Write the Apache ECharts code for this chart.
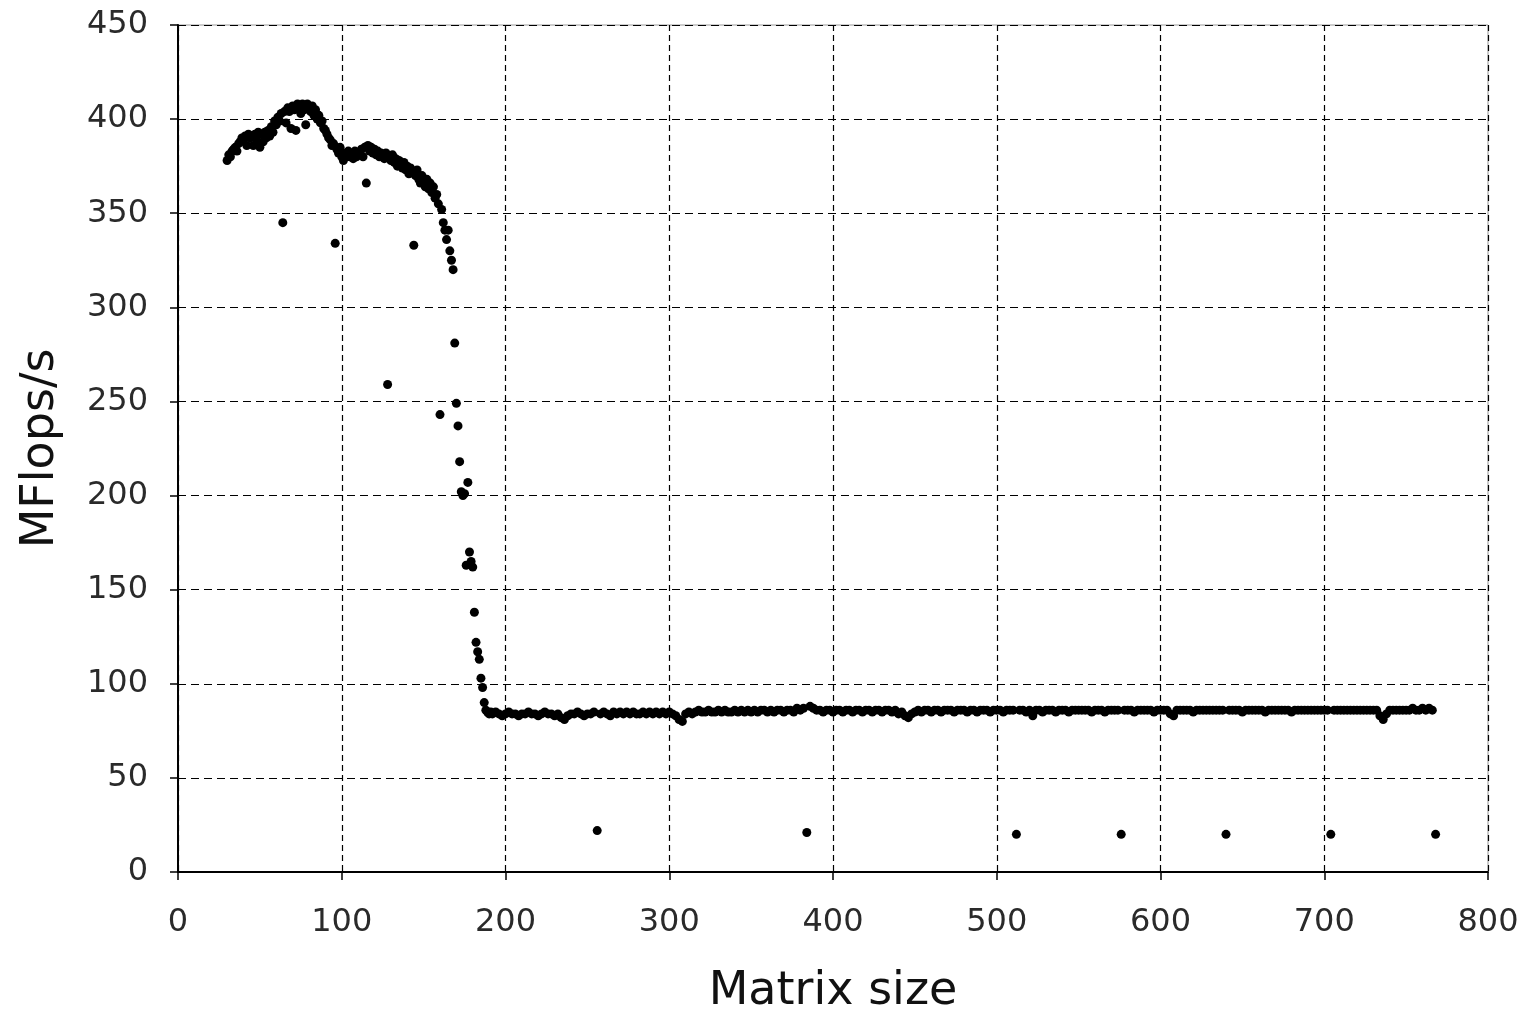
<!DOCTYPE html>
<html>
<head>
<meta charset="utf-8">
<script src="https://cdn.jsdelivr.net/npm/echarts@6/dist/echarts.min.js"></script>
<style>
html,body{margin:0;padding:0;background:#fff;}
#chart{width:1529px;height:1013px;}
</style>
</head>
<body>
<div id="chart"></div>
<script>
// Matrix sizes 30..191 (step 1)
var sizesSmall = [
30,31,32,33,34,35,36,37,38,39,40,41,42,43,44,45,46,47,48,49,
50,51,52,53,54,55,56,57,58,59,60,61,62,63,64,65,66,67,68,69,
70,71,72,73,74,75,76,77,78,79,80,81,82,83,84,85,86,87,88,89,
90,91,92,93,94,95,96,97,98,99,100,101,102,103,104,105,106,107,108,109,
110,111,112,113,114,115,116,117,118,119,120,121,122,123,124,125,126,127,128,129,
130,131,132,133,134,135,136,137,138,139,140,141,142,143,144,145,146,147,148,149,
150,151,152,153,154,155,156,157,158,159,160,161,162,163,164,165,166,167,168,169,
170,171,172,173,174,175,176,177,178,179,180,181,182,183,184,185,186,187,188,189,
190,191
];
var mflopsSmall = [
378,381,380,383,384,385,383,387,388,390,389,391,386,392,390,391,386,392,389,393,
385,392,388,393,390,394,391,396,393,399,397,401,399,403,345,404,398,406,404,395,
407,405,394,408,406,403,408,405,397,408,406,404,407,402,405,400,402,398,399,395,
394,392,390,389,386,387,334,384,382,385,380,378,382,380,383,380,381,379,383,380,
382,381,384,380,385,366,386,383,385,382,384,381,383,380,382,381,379,382,259,380,
378,381,377,379,375,378,376,374,377,373,375,371,374,372,333,370,373,368,366,370,
367,364,368,363,366,361,364,358,360,355,243,352,345,341,336,341,330,325,320,281,
249,237,218,202,200,201,163,207,170,165,162,138,122,117,113,103,98,90,86,85,
84,85
];
// Matrix sizes 192..768 (step 2)
var sizesLarge = [
192,194,196,198,200,202,204,206,208,210,212,214,216,218,220,222,224,226,228,230,
232,234,236,238,240,242,244,246,248,250,252,254,256,258,260,262,264,266,268,270,
272,274,276,278,280,282,284,286,288,290,292,294,296,298,300,302,304,306,308,310,
312,314,316,318,320,322,324,326,328,330,332,334,336,338,340,342,344,346,348,350,
352,354,356,358,360,362,364,366,368,370,372,374,376,378,380,382,384,386,388,390,
392,394,396,398,400,402,404,406,408,410,412,414,416,418,420,422,424,426,428,430,
432,434,436,438,440,442,444,446,448,450,452,454,456,458,460,462,464,466,468,470,
472,474,476,478,480,482,484,486,488,490,492,494,496,498,500,502,504,506,508,510,
512,514,516,518,520,522,524,526,528,530,532,534,536,538,540,542,544,546,548,550,
552,554,556,558,560,562,564,566,568,570,572,574,576,578,580,582,584,586,588,590,
592,594,596,598,600,602,604,606,608,610,612,614,616,618,620,622,624,626,628,630,
632,634,636,638,640,642,644,646,648,650,652,654,656,658,660,662,664,666,668,670,
672,674,676,678,680,682,684,686,688,690,692,694,696,698,700,702,704,706,708,710,
712,714,716,718,720,722,724,726,728,730,732,734,736,738,740,742,744,746,748,750,
752,754,756,758,760,762,764,766,768
];
var mflopsLarge = [
84,85,84,83,84,85,84,84,83,84, 84,85,84,84,83,84,85,84,84,83,
84,82,81,83,84,84,85,84,83,84, 84,85,22,84,85,84,83,85,84,85,
84,85,84,85,84,84,85,84,85,84, 85,84,85,84,85,84,83,81,80,84,
85,84,85,86,85,85,86,85,85,86, 85,86,85,85,86,85,86,85,86,85,
86,85,86,86,85,86,85,86,86,85, 86,86,85,87,86,87,21,88,87,86,
86,85,86,86,85,86,86,85,86,86, 85,86,86,85,86,86,85,86,86,85,
86,86,85,86,84,85,83,82,84,85, 86,85,86,86,85,86,86,85,86,86,
86,85,86,86,86,85,86,86,85,86, 86,86,85,86,86,86,85,86,86,86,
20,86,86,85,86,83,86,86,85,86, 86,86,85,86,86,86,85,86,86,86,
86,86,86,85,86,86,86,85,86,86, 86,86,20,86,86,86,85,86,86,86,
86,86,85,86,86,86,86,84,83,86, 86,86,86,86,85,86,86,86,86,86,
86,86,86,86,20,86,86,86,86,85, 86,86,86,86,86,86,85,86,86,86,
86,86,86,86,85,86,86,86,86,86, 86,86,86,86,86,86,20,86,86,86,
86,86,86,86,86,86,86,86,86,86, 86,83,81,84,86,86,86,86,86,86,
86,87,86,86,87,86,87,86,20
];
var xTicks = [0,100,200,300,400,500,600,700,800];
var yTicks = [0,50,100,150,200,250,300,350,400,450];

var points = [];
sizesSmall.forEach(function(s,i){ points.push([s, mflopsSmall[i]]); });
sizesLarge.forEach(function(s,i){ points.push([s, mflopsLarge[i]]); });

var chart = echarts.init(document.getElementById('chart'), null, {renderer:'canvas'});
var font = 'DejaVu Sans';
chart.setOption({
  animation: false,
  backgroundColor: '#ffffff',
  grid: {left:178, right:41, top:25, bottom:141, outerBoundsMode:'none', containLabel:false,
         show:true, borderColor:'#9a9a9a', borderWidth:1, backgroundColor:'transparent'},
  xAxis: {
    type:'value', min:xTicks[0], max:xTicks[xTicks.length-1], interval:100,
    name:'Matrix size', nameLocation:'middle', nameGap:97,
    nameTextStyle:{fontFamily:font, fontSize:46, color:'#111'},
    axisLine:{show:true, lineStyle:{color:'#000', width:2}},
    axisTick:{show:true, length:8, lineStyle:{color:'#000', width:1.5}},
    axisLabel:{fontFamily:font, fontSize:32, color:'#2a2a2a', margin:35},
    splitLine:{show:true, lineStyle:{color:'#000', width:1.2, type:[6,4]}}
  },
  yAxis: {
    type:'value', min:yTicks[0], max:yTicks[yTicks.length-1], interval:50,
    name:'MFlops/s', nameLocation:'middle', nameGap:114, nameRotate:90,
    nameTextStyle:{fontFamily:font, fontSize:46, color:'#111'},
    axisLine:{show:true, lineStyle:{color:'#000', width:2}},
    axisTick:{show:true, length:8, lineStyle:{color:'#000', width:1.5}},
    axisLabel:{fontFamily:font, fontSize:32, color:'#2a2a2a', margin:30},
    splitLine:{show:true, lineStyle:{color:'#000', width:1.2, type:[8,5]}}
  },
  series: [{
    type:'scatter',
    data: points,
    symbol:'circle',
    symbolSize:9,
    itemStyle:{color:'#000', opacity:1},
    large:false
  }]
});
</script>
</body>
</html>
